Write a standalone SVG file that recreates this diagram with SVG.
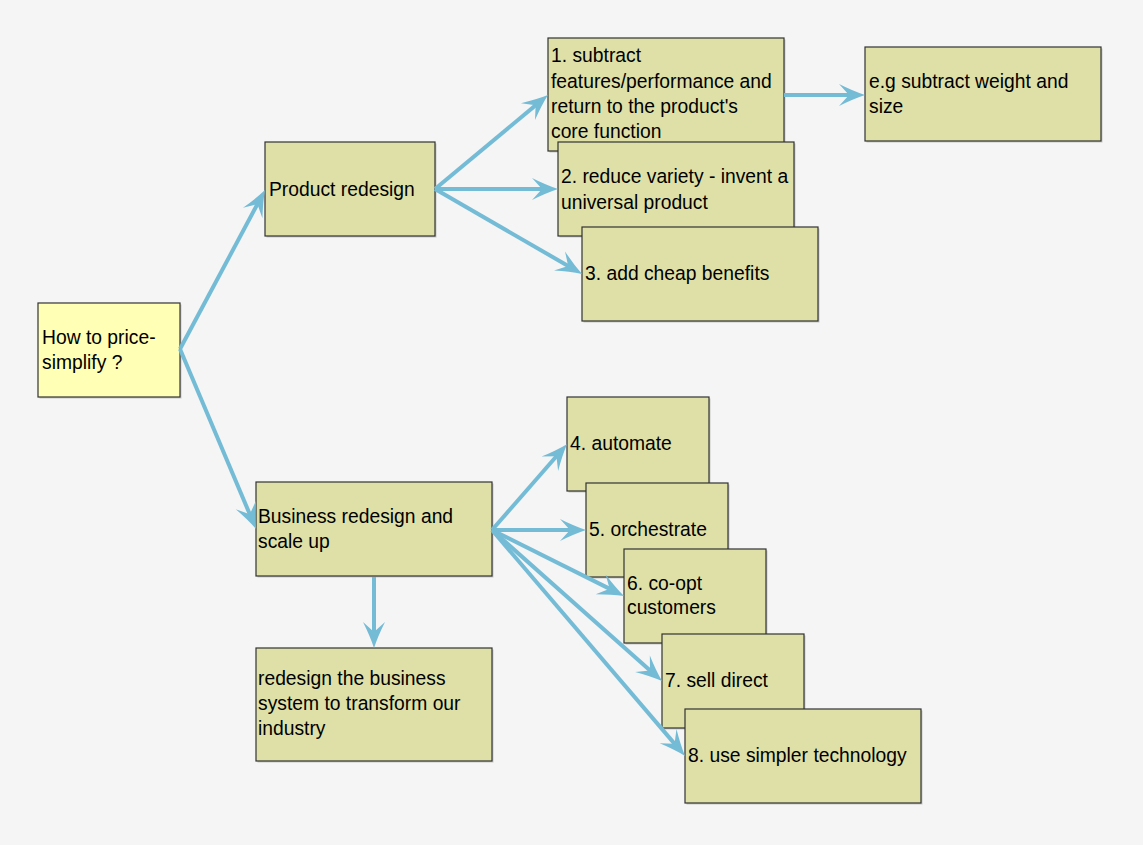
<svg xmlns="http://www.w3.org/2000/svg" width="1143" height="845" viewBox="0 0 1143 845">
<style>
.bx{fill:#DEE0A8;stroke:#333333;stroke-width:1.2}
.root{fill:#FFFFB5;stroke:#333333;stroke-width:1.2}
.sh{fill:#C8C8C8}
text{font-family:"Liberation Sans",Arial,sans-serif;font-size:19.3px;fill:#000}
.cn{stroke:#74BBD6;stroke-width:4;fill:none;marker-end:url(#ah)}
</style>
<defs>
<marker id="ah" markerUnits="userSpaceOnUse" orient="auto" viewBox="-28 -13 30 26" markerWidth="30" markerHeight="26" refX="-8" refY="0">
<path d="M0,0 Q-12,-4 -26,-11 L-16,0 L-26,11 Q-12,4 0,0 Z" fill="#74BBD6"/>
</marker>
</defs>
<rect width="1143" height="845" fill="#F5F5F5"/>

<g id="n-root">
<rect class="sh" x="39.5" y="304.5" width="142" height="94"/>
<rect class="root" x="38" y="303" width="142" height="94"/>
<text x="42" y="343.5">How to price-</text>
<text x="42" y="368.5">simplify ?</text>
</g>

<g id="n-product">
<rect class="sh" x="266.5" y="143.5" width="170" height="94"/>
<rect class="bx" x="265" y="142" width="170" height="94"/>
<text x="269" y="195.5">Product redesign</text>
</g>

<g id="n-eg">
<rect class="sh" x="866.5" y="48.5" width="236" height="94"/>
<rect class="bx" x="865" y="47" width="236" height="94"/>
<text x="869" y="87.5">e.g subtract weight and</text>
<text x="869" y="112.8">size</text>
</g>

<g id="n-1">
<rect class="sh" x="549.5" y="39.5" width="236" height="113"/>
<rect class="bx" x="548" y="38" width="236" height="113"/>
<text x="551" y="62.3">1. subtract</text>
<text x="551" y="87.6">features/performance and</text>
<text x="551" y="112.9">return to the product's</text>
<text x="551" y="138.2">core function</text>
</g>

<g id="n-2">
<rect class="sh" x="559.5" y="143.5" width="236" height="94"/>
<rect class="bx" x="558" y="142" width="236" height="94"/>
<text x="561" y="183.3">2. reduce variety - invent a</text>
<text x="561" y="208.6">universal product</text>
</g>

<g id="n-3">
<rect class="sh" x="583.5" y="228.5" width="236" height="94"/>
<rect class="bx" x="582" y="227" width="236" height="94"/>
<text x="585" y="280">3. add cheap benefits</text>
</g>

<g id="n-business">
<rect class="sh" x="257.5" y="483.5" width="236" height="94"/>
<rect class="bx" x="256" y="482" width="236" height="94"/>
<text x="258" y="522.8">Business redesign and</text>
<text x="258" y="548">scale up</text>
</g>

<g id="n-system">
<rect class="sh" x="257.5" y="649.5" width="236" height="113"/>
<rect class="bx" x="256" y="648" width="236" height="113"/>
<text x="258" y="684.5">redesign the business</text>
<text x="258" y="709.8">system to transform our</text>
<text x="258" y="735">industry</text>
</g>

<g id="n-4">
<rect class="sh" x="568.5" y="398.5" width="142" height="94"/>
<rect class="bx" x="567" y="397" width="142" height="94"/>
<text x="570" y="450">4. automate</text>
</g>

<g id="n-5">
<rect class="sh" x="587.5" y="484.5" width="142" height="94"/>
<rect class="bx" x="586" y="483" width="142" height="94"/>
<text x="589" y="535.5">5. orchestrate</text>
</g>

<g id="n-6">
<rect class="sh" x="625.5" y="550.5" width="142" height="94"/>
<rect class="bx" x="624" y="549" width="142" height="94"/>
<text x="627" y="589.5">6. co-opt</text>
<text x="627" y="614">customers</text>
</g>

<g id="n-7">
<rect class="sh" x="663.5" y="635.5" width="142" height="94"/>
<rect class="bx" x="662" y="634" width="142" height="94"/>
<text x="665" y="687">7. sell direct</text>
</g>

<g id="n-8">
<rect class="sh" x="686.5" y="710.5" width="236" height="94"/>
<rect class="bx" x="685" y="709" width="236" height="94"/>
<text x="688" y="762">8. use simpler technology</text>
</g>

<g id="connectors">
<line class="cn" x1="180" y1="349" x2="261.2" y2="197.1"/>
<line class="cn" x1="180" y1="349" x2="252.9" y2="521.6"/>
<line class="cn" x1="435" y1="189" x2="541.8" y2="100.1"/>
<line class="cn" x1="435" y1="189" x2="550" y2="189"/>
<line class="cn" x1="435" y1="189" x2="575.1" y2="270"/>
<line class="cn" x1="784" y1="95" x2="857" y2="95"/>
<line class="cn" x1="374" y1="577" x2="374" y2="640"/>
<line class="cn" x1="492" y1="530" x2="561.7" y2="450.3"/>
<line class="cn" x1="492" y1="530" x2="578" y2="530"/>
<line class="cn" x1="492" y1="530" x2="616.8" y2="592.4"/>
<line class="cn" x1="492" y1="530" x2="656" y2="675.7"/>
<line class="cn" x1="492" y1="530" x2="679.8" y2="749.9"/>
</g>
</svg>
